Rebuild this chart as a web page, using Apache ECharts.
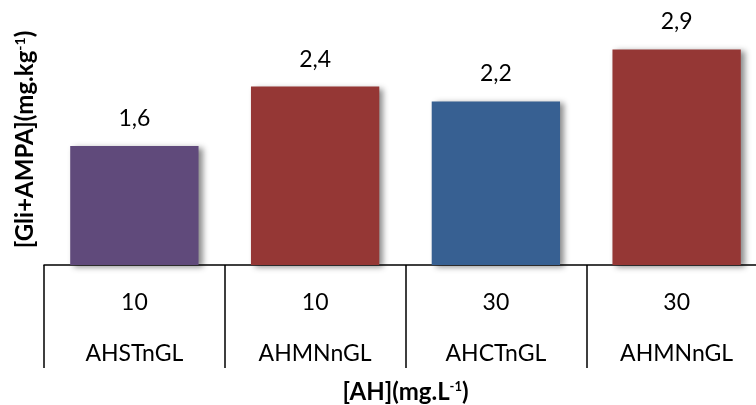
<!DOCTYPE html>
<html><head><meta charset="utf-8">
<script src="https://cdn.jsdelivr.net/npm/echarts@6/dist/echarts.min.js"></script>
<style>html,body{margin:0;padding:0;background:#fff}#c{width:756px;height:405px}</style>
</head><body><div id="c"></div>
<script>
var groups = ['10', '10', '30', '30'];
var names = ['AHSTnGL', 'AHMNnGL', 'AHCTnGL', 'AHMNnGL'];
var values = [1.6, 2.4, 2.2, 2.9];
var barColors = ['#604A7B', '#953735', '#376092', '#953735'];
var FONT = 'Lato';

var chart = echarts.init(document.getElementById('c'));
chart.setOption({
  animation: false,
  grid: {left: 44, right: -11, top: 42, bottom: 140, outerBoundsMode: 'none', containLabel: false},
  xAxis: {
    type: 'category',
    data: names.map(function (n, i) { return groups[i] + '\n' + n; }),
    axisLine: {lineStyle: {color: '#000', width: 1.5}},
    axisTick: {show: true, length: 103, lineStyle: {color: '#000', width: 1.5}},
    axisLabel: {color: '#000', fontFamily: FONT, fontSize: 23, lineHeight: 51, margin: 12},
    name: '[AH](mg.L{sup|-1})',
    nameLocation: 'middle',
    nameGap: 115,
    nameMoveOverlap: false,
    nameTextStyle: {
      color: '#000', fontFamily: FONT, fontSize: 24, fontWeight: 'bold',
      rich: {sup: {fontSize: 13, fontWeight: 'bold', fontFamily: FONT, color: '#000', padding: [0, 0, 10, 0]}}
    }
  },
  yAxis: {
    type: 'value', min: 0, max: 3,
    axisLine: {show: false}, axisTick: {show: false}, axisLabel: {show: false}, splitLine: {show: false},
    name: '[Gli+AMPA](mg.kg{sup|-1})',
    nameLocation: 'middle',
    nameRotate: 90,
    nameGap: 6,
    nameMoveOverlap: false,
    nameTextStyle: {
      color: '#000', fontFamily: FONT, fontSize: 24, fontWeight: 'bold', padding: [0, 0, 0, 28],
      rich: {sup: {fontSize: 14, fontWeight: 'bold', fontFamily: FONT, color: '#000', padding: [0, 0, 11, 0]}}
    }
  },
  series: [{
    type: 'bar',
    barCategoryGap: '29%',
    data: values.map(function (v, i) { return {value: v, itemStyle: {color: barColors[i]}}; }),
    itemStyle: {shadowColor: 'rgba(0,0,0,0.45)', shadowBlur: 6, shadowOffsetX: 4, shadowOffsetY: 2},
    label: {
      show: true, position: 'top', distance: 16, color: '#000', fontFamily: FONT, fontSize: 23,
      formatter: function (p) { return String(p.value).replace('.', ','); }
    }
  }]
});
</script></body></html>
